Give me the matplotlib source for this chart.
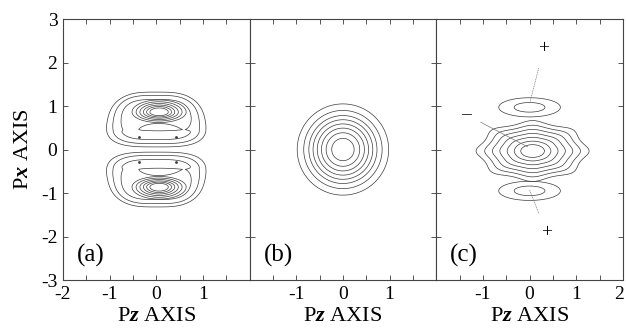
import numpy as np
import matplotlib.pyplot as plt
import matplotlib.transforms as mtransforms

plt.rcParams['font.family'] = 'Liberation Serif'
plt.rcParams['mathtext.fontset'] = 'custom'
plt.rcParams['mathtext.rm'] = 'Liberation Serif'
plt.rcParams['mathtext.bf'] = 'Liberation Serif:bold:italic'
plt.rcParams['axes.unicode_minus'] = False
plt.rcParams['contour.negative_linestyle'] = 'solid'

ink = '#3a3a3a'
lw = 0.5

# axis ticks / labels
x_labels = [[-2, -1, 0, 1], [-1, 0, 1], [-1, 0, 1, 2]]
y_labels = [-3, -2, -1, 0, 1, 2, 3]
panel_names = ['(a)', '(b)', '(c)']

# panel (a): two lobes, mirrored about Px = 0
base_amp = 0.125
base_radii = [1.0, 0.88, 0.73]
lens_center = (0.05, 0.46)
peak_center = (0.06, 0.86)
peak_radii = [1.0, 0.85, 0.71, 0.58, 0.46, 0.34]
dot_x = [-0.37, 0.42, -0.37, 0.42]
dot_y = [0.29, 0.29, -0.29, -0.29]

# panel (b): ring radii (Pz units)
ring_radii = [0.98, 0.84, 0.73, 0.64, 0.55, 0.46, 0.36, 0.24]

# panel (c): central blob and two side lobes
lobe_centers = [(0.0, 0.97), (0.0, -0.95)]
lobe_radii = [1.0, 0.5]
blob_center = (0.065, -0.035)
blob_radii = [1.0, 0.86, 0.73, 0.6, 0.47, 0.34, 0.22]
sign_text = ['+', '\u2013', '+']
sign_pos = [(0.30, 2.31), (-1.37, 0.81), (0.36, -1.90)]
sign_target = [(0.0, 1.05), (-0.04, 0.06), (0.0, -0.93)]
sign_style = [':', '-', ':']

x = np.linspace(-2, 2, 800)
y = np.linspace(-3, 3, 1200)
X, Y = np.meshgrid(x, y)


def lobe_a(X, Y):
    ay = 1.08 - 0.3 * np.clip(Y - 0.35, 0, None)**2 - 0.3 * np.clip(0.35 - Y, 0, None)**2
    u = np.abs(X / ay)
    v = np.abs((Y - 0.69) / 0.63)
    r = (u**3.5 + v**3.5)**(1 / 3.5)
    base = base_amp * np.exp(-r**4)
    sy = np.where(Y > lens_center[1], 0.2, 0.04)
    g = np.exp(-((X - lens_center[0])**2 / 0.55**2 + (Y - lens_center[1])**2 / sy**2))
    base = base * (1 - 0.4 * g)
    py = np.where(Y > peak_center[1], 0.28, 0.24)
    peak = np.exp(-((X - peak_center[0])**2 / 0.58**2 + (Y - peak_center[1])**2 / py**2))
    return base, peak


def gauss_levels(radii, q=2, amp=1.0):
    return sorted(amp * np.exp(-np.array(radii)**q))


fig, axes = plt.subplots(1, 3, figsize=(6.26, 3.28), dpi=100, sharey=True)
fig.subplots_adjust(left=0.1006, right=0.995, bottom=0.1463, top=0.942, wspace=0)

# (a)
ax = axes[0]
b_up, p_up = lobe_a(X, Y)
b_dn, p_dn = lobe_a(X, -Y)
base = np.where(Y >= 0, b_up, b_dn)
peak = np.where(Y >= 0, p_up, p_dn)
ax.contour(X, Y, base, levels=gauss_levels(base_radii, 4, base_amp), colors=ink, linewidths=lw)
ax.contour(X, Y, peak, levels=gauss_levels(peak_radii), colors=ink, linewidths=lw)
ax.plot(dot_x, dot_y, '.', color=ink, ms=2)

# (b)
ax = axes[1]
R = np.sqrt(X**2 + (Y / 1.07)**2)
ax.contour(X, Y, np.exp(-R**2), levels=gauss_levels(ring_radii), colors=ink, linewidths=lw)

# (c)
ax = axes[2]
lobes = sum(np.exp(-((X - cx)**2 / 0.66**2 + (Y - cy)**2 / 0.22**2)) for cx, cy in lobe_centers)
xn = (X - blob_center[0]) / 1.15
yn = (Y - blob_center[1]) / 0.665
rho2 = xn**2 + yn**2
th = np.arctan2(yn, xn)
D = rho2 * (1 - 0.09 * np.clip(rho2, 0, 1.1) * np.cos(8 * th))
ax.contour(X, Y, lobes, levels=gauss_levels(lobe_radii), colors=ink, linewidths=lw)
ax.contour(X, Y, np.exp(-D), levels=gauss_levels(blob_radii), colors=ink, linewidths=lw)
for t, p, q, ls in zip(sign_text, sign_pos, sign_target, sign_style):
    ax.annotate(t, xy=q, xytext=p, fontsize=14, ha='center', va='center', color='black',
                arrowprops=dict(arrowstyle='-', lw=0.5, color='#777777', linestyle=ls,
                                shrinkA=6, shrinkB=0))

for i, ax in enumerate(axes):
    ax.set_xlim(-2, 2)
    ax.set_ylim(-3, 3)
    ax.set_xticks(x_labels[i])
    ax.set_xticks(np.arange(-2, 2.01, 0.5), minor=True)
    ax.set_yticks(y_labels)
    ax.tick_params(which='both', direction='in', top=True, right=True, length=3.5,
                   width=0.6, color=ink, labelsize=14, pad=4)
    for s in ax.spines.values():
        s.set_linewidth(0.8)
        s.set_color('#444444')
    ax.set_xlabel(r'P$\mathbf{z}$ AXIS', fontsize=16, labelpad=3)
    ax.text(-1.7, -2.43, panel_names[i], fontsize=18, ha='left', va='center')
axes[0].set_ylabel(r'P$\mathbf{x}$ AXIS', fontsize=16, labelpad=6)

# keep the last "2" inside the figure
last = axes[2].get_xticklabels()[-1]
last.set_transform(last.get_transform() + mtransforms.ScaledTranslation(-4 / 100, 0, fig.dpi_scale_trans))

fig.savefig('out.png')
